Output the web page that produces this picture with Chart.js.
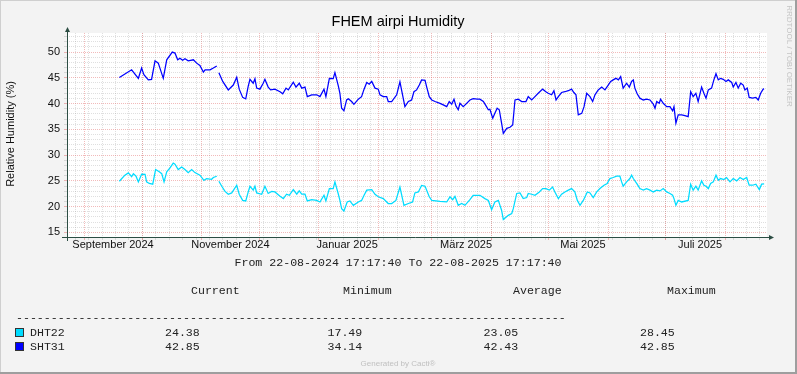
<!DOCTYPE html>
<html>
<head>
<meta charset="utf-8">
<title>FHEM airpi Humidity</title>
<script src="https://cdn.jsdelivr.net/npm/chart.js"></script>
<style>
  html, body { margin: 0; padding: 0; background: #f3f3f3; }
  #wrap { width: 797px; height: 374px; }
</style>
</head>
<body>
<div id="wrap"><canvas id="humChart" width="797" height="374"></canvas></div>
<script>
// Zeitraum: 22-08-2024 17:17:40 bis 22-08-2025 17:17:40, x = Tage ab Start
const startTime = new Date(2024, 7, 22, 17, 17, 40);
const totalDays = 365;

const xLabels = ["September 2024", "November 2024", "Januar 2025", "März 2025", "Mai 2025", "Juli 2025"];
const xLabelDays = [24.0, 85.2, 146.1, 208.1, 269.0, 330.1];

const yMin = 14.1;
const yMax = 53.7;

const seriesNames = ["DHT22", "SHT31"];
const statHeaders = ["Current", "Minimum", "Average", "Maximum"];
const dht22Stats = ["24.38", "17.49", "23.05", "28.45"];
const sht31Stats = ["42.85", "34.14", "42.43", "42.85"];

// DHT22 (cyan)
const dht22Days = [27.3, 30.2, 32.0, 33.7, 34.6, 36.0, 37.2, 38.9, 40.7, 41.5, 42.9, 44.7, 46.2, 48.1, 49.4, 50.6, 52.0, 53.7, 55.4, 56.3, 58.0, 59.8, 61.5, 63.2, 65.0, 66.7, 69.3, 71.4, 72.8, 75.4, 76.3, 78.1, 78.7,
  79.2, 80.7, 82.4, 84.1, 85.9, 88.5, 89.8, 91.6, 93.2, 94.5, 95.4, 97.1, 98.0, 98.9, 101.5, 103.2, 104.9, 106.7, 108.4, 111.1, 112.8, 114.5, 115.9, 118.0, 119.8, 121.1, 122.4, 124.1, 125.3, 127.6, 130.2, 131.9, 134.0, 135.0,
  136.8, 138.8, 139.7, 141.5, 142.3, 143.2, 144.4, 146.1, 147.5, 149.3, 151.9, 153.6, 154.9, 156.3, 158.9, 160.6, 162.3, 164.9, 167.5, 169.3, 171.5, 173.6, 175.7, 178.0, 180.2, 181.4, 183.2, 184.9, 186.7, 188.9, 190.2,
  194.5, 198.0, 199.7, 201.1, 202.3, 204.0, 205.8, 207.5, 210.1, 211.8, 215.3, 217.9, 219.7, 221.4, 223.1, 224.9, 226.6, 227.5, 230.1, 231.9, 232.7, 234.5, 236.2, 237.9, 239.7, 240.5, 242.3, 244.0, 246.3, 248.0, 249.7,
  251.5, 253.2, 254.4, 256.2, 257.9, 259.6, 261.4, 263.1, 264.8, 266.1, 267.5, 269.2, 271.3, 272.7, 274.4, 276.2, 277.9, 280.0, 281.7, 283.1, 284.8, 286.6, 288.3, 289.2, 290.0, 291.8, 293.5, 294.4, 295.3, 297.3, 298.7,
  300.5, 302.2, 304.0, 305.7, 307.5, 309.2, 310.9, 312.7, 314.4, 315.8, 316.5, 317.5, 318.7, 320.5, 323.9, 325.2, 326.5, 327.9, 329.1, 330.9, 332.1, 333.2, 334.4, 335.6, 337.0, 338.4, 339.6, 340.8, 342.5, 343.9, 345.7,
  347.4, 349.2, 350.9, 352.6, 354.4, 355.7, 357.5, 359.2, 361.0, 362.2, 363.5];
const dht22Values = [24.93, 26.1, 26.55, 25.8, 26.4, 25.9, 24.8, 26.3, 26.25, 24.8, 24.5, 24.35, 27.2, 26.75, 26.4, 24.8, 26.75, 27.5, 28.45, 28.25, 27.2, 27.7, 27.2, 26.6, 27.2, 26.6, 26.1, 25.1, 25.45, 25.3, 25.65, 25.9, null,
  24.93, 23.95, 22.95, 22.4, 22.65, 24.15, 22.4, 21.2, 21.1, 22.85, 23.95, 23.2, 23.95, 22.65, 22.4, 23.95, 22.55, 22.95, 22.85, 22.0, 21.55, 22.4, 22.2, 23.3, 22.4, 23.05, 22.4, 22.4, 21.1, 21.35, 21.2, 20.9, 22.2, 21.1,
  23.5, 23.5, 24.8, 22.4, 21.2, 19.6, 19.15, 20.9, 21.1, 20.25, 20.9, 21.2, 22.2, 23.2, 23.3, 22.4, 21.9, 21.55, 20.6, 20.6, 21.2, 23.8, 20.25, 20.6, 20.9, 22.65, 22.85, 24.1, 23.95, 21.9, 21.2,
  21.0, 20.9, 21.9, 21.35, 22.0, 20.25, 20.6, 20.25, 21.35, 22.2, 22.2, 21.55, 21.2, 19.4, 20.9, 21.2, 19.3, 17.5, 18.3, 18.65, 19.6, 22.55, 22.65, 21.55, 21.75, 22.55, 22.4, 22.2, 22.85, 23.5, 23.5,
  23.2, 23.8, 22.85, 21.55, 22.4, 22.85, 23.2, 23.5, 22.85, 21.2, 20.25, 21.2, 22.85, 22.65, 21.75, 22.85, 23.5, 24.15, 24.5, 25.45, 25.65, 25.9, 25.9, 24.8, 23.95, 24.8, 25.45, 26.1, 25.45, 24.35, 23.5,
  23.2, 23.5, 23.2, 22.85, 23.2, 23.05, 23.5, 22.85, 22.55, 22.2, 21.55, 20.25, 21.2, 20.9, 21.2, 24.35, 23.2, 23.95, 23.2, 25.0, 24.15, 23.95, 23.5, 24.5, 24.8, 26.1, 25.1, 25.45, 25.25, 25.65, 24.8,
  25.45, 25.0, 25.65, 25.25, 25.65, 24.15, 24.15, 24.35, 23.3, 24.35, 24.4];

// SHT31 (blau)
const sht31Days = [27.3, 33.7, 37.2, 38.9, 40.1, 42.4, 44.1, 45.9, 47.6, 50.2, 52.0, 54.9, 56.3, 57.7, 58.9, 60.3, 61.5, 63.2, 65.9, 67.6, 69.3, 71.1, 72.0, 74.6, 76.3, 78.1, 78.7,
  79.2, 81.2, 84.1, 86.7, 88.5, 89.8, 91.6, 93.2, 94.5, 95.4, 97.1, 98.0, 98.9, 100.6, 102.3, 103.2, 104.9, 106.2, 108.4, 111.1, 112.5, 114.2, 115.4, 118.0, 119.4, 121.1, 122.4, 124.1, 125.3, 127.6, 130.2, 131.9, 134.0, 135.0,
  136.8, 138.8, 139.7, 141.5, 142.3, 143.2, 144.4, 145.8, 146.7, 148.4, 149.6, 151.9, 153.6, 154.9, 156.3, 157.6, 158.9, 160.6, 162.3, 163.2, 164.9, 166.7, 167.5, 169.3, 171.9, 173.6, 176.2, 178.0, 179.7, 180.9, 182.3,
  183.7, 184.9, 186.7, 187.5, 188.9, 190.2, 191.9, 194.5, 196.2, 198.0, 199.3, 200.6, 201.8, 202.8, 204.0, 204.9, 206.6, 208.0, 210.1, 211.8, 213.9, 215.3, 217.1, 218.5, 219.7, 220.5, 222.0, 223.1, 224.3, 225.4, 226.6,
  227.5, 229.3, 231.0, 232.4, 233.6, 235.3, 237.1, 239.3, 240.5, 242.3, 244.0, 245.7, 248.0, 249.7, 250.9, 252.7, 253.9, 255.0, 256.2, 257.9, 259.6, 261.4, 263.1, 264.3, 265.4, 266.6, 268.4, 269.6, 271.0, 272.7, 274.1,
  275.3, 277.0, 278.8, 280.5, 282.2, 283.5, 284.8, 286.2, 287.5, 288.7, 290.0, 291.8, 293.2, 294.4, 295.3, 296.1, 297.3, 298.7, 300.5, 302.2, 304.0, 305.7, 306.6, 307.5, 308.8, 309.5, 310.9, 312.7, 314.4, 315.8, 316.5,
  317.5, 318.7, 320.5, 322.2, 323.9, 325.2, 326.5, 327.9, 329.1, 330.9, 332.1, 333.2, 334.4, 336.1, 337.3, 338.4, 339.6, 340.8, 342.2, 343.6, 344.8, 346.6, 347.4, 348.8, 350.0, 351.3, 352.6, 353.5, 354.7, 355.7, 357.5,
  359.2, 360.4, 361.7, 363.0, 363.5];
const sht31Values = [45.05, 46.55, 44.9, 46.9, 45.6, 44.6, 44.7, 48.3, 47.85, 44.9, 48.5, 50.0, 49.8, 48.5, 48.8, 48.4, 48.7, 48.3, 48.5, 47.85, 47.4, 46.1, 46.55, 46.55, 46.9, 47.3, null,
  46.0, 44.3, 42.65, 43.6, 45.1, 42.8, 41.2, 40.9, 43.4, 44.7, 43.95, 44.8, 43.0, 42.8, 43.95, 44.7, 43.2, 42.65, 42.8, 42.3, 41.9, 43.0, 42.65, 44.15, 43.2, 43.95, 43.0, 43.2, 41.35, 41.7, 41.7, 41.35, 42.8, 41.35,
  44.9, 44.85, 46.0, 43.4, 42.0, 39.1, 38.6, 40.7, 40.95, 40.4, 39.85, 40.85, 41.35, 42.8, 44.1, 43.75, 44.3, 43.0, 42.8, 41.7, 41.35, 41.35, 40.4, 40.4, 41.7, 44.2, 39.4, 40.4, 40.7, 42.3, 42.65,
  43.6, 44.6, 44.5, 43.3, 41.35, 40.7, 40.4, 40.05, 39.75, 39.4, 40.4, 39.9, 40.85, 39.55, 38.8, 40.05, 39.4, 39.9, 40.7, 40.95, 40.85, 40.85, 40.4, 39.55, 38.8, 38.9, 37.15, 38.1, 39.1, 38.8, 36.2,
  34.2, 35.2, 35.4, 35.85, 40.7, 40.85, 40.4, 40.4, 41.35, 40.7, 41.35, 42.0, 42.8, 42.3, 42.0, 41.7, 42.5, 40.7, 41.35, 42.15, 42.3, 42.5, 42.8, 42.15, 41.7, 37.8, 38.1, 39.4, 42.0, 41.35, 40.4,
  41.7, 42.65, 43.2, 42.65, 43.6, 44.3, 44.6, 44.9, 44.6, 45.25, 43.0, 43.95, 43.2, 44.3, 44.6, 43.0, 41.9, 41.05, 40.7, 40.85, 40.7, 39.9, 39.1, 40.4, 40.05, 40.85, 40.05, 39.4, 39.4, 38.6, 39.4,
  36.2, 37.8, 37.8, 37.65, 37.45, 42.3, 41.35, 42.0, 40.4, 43.2, 42.0, 41.05, 42.65, 43.0, 44.6, 45.8, 44.6, 44.9, 44.7, 44.3, 44.6, 44.1, 43.2, 44.1, 43.0, 43.95, 43.6, 42.65, 43.0, 41.2, 41.05,
  41.2, 40.7, 42.0, 42.8, 42.85];

const dhtColor = "#00dcff";
const shtColor = "#0000ff";
const axisColor = "#2c4d43";
const minorGrid = "rgba(150, 150, 150, 0.3)";
const majorGrid = "rgba(225, 90, 90, 0.42)";

// Gitterlinien: Monatsanfang (rot), Wochen (grau), Beschriftung in Monatsmitte
const dayOf = (d) => (d - startTime) / 86400000;
const monthLines = [];
for (let m = 8; m <= 19; m++) monthLines.push(dayOf(new Date(2024, m, 1)));
const weekLines = [];
for (let d = dayOf(new Date(2024, 7, 27)); d < totalDays; d += 7) weekLines.push(d);

const xTicks = []
  .concat(weekLines.map((v) => ({ value: v, kind: "minor", label: "" })))
  .concat(monthLines.map((v) => ({ value: v, kind: "major", label: "" })))
  .concat(xLabelDays.map((v, i) => ({ value: v, kind: "label", label: xLabels[i] })))
  .sort((a, b) => a.value - b.value);

const yTicks = [];
for (let v = 15; v <= 53; v++) yTicks.push(v);

function xGridColor(c) {
  const t = xTicks[c.index];
  if (!t || t.kind === "label") return "rgba(0,0,0,0)";
  return t.kind === "major" ? majorGrid : minorGrid;
}
function yGridColor(c) {
  const v = yTicks[c.index];
  return v % 5 === 0 ? majorGrid : minorGrid;
}

const rrdFrame = {
  id: "rrdFrame",
  beforeDraw(chart) {
    const { ctx, chartArea: a, width, height } = chart;
    ctx.save();
    ctx.fillStyle = "#f3f3f3";
    ctx.fillRect(0, 0, width, height);
    ctx.fillStyle = "#ffffff";
    ctx.fillRect(a.left, a.top, a.right - a.left, a.bottom - a.top);
    ctx.fillStyle = "#cfcfcf";
    ctx.fillRect(0, 0, width, 1);
    ctx.fillRect(0, 0, 1, height);
    ctx.fillStyle = "#9e9e9e";
    ctx.fillRect(0, height - 2, width, 2);
    ctx.fillRect(width - 2, 0, 2, height);
    ctx.restore();
  },
  afterDraw(chart) {
    const { ctx, chartArea: a } = chart;
    const x0 = a.left + 0.5;
    const y0 = a.bottom + 0.5;
    ctx.save();

    // Achsen mit Pfeilen
    ctx.strokeStyle = axisColor;
    ctx.fillStyle = axisColor;
    ctx.lineWidth = 1;
    ctx.beginPath();
    ctx.moveTo(a.left - 5, y0);
    ctx.lineTo(a.right + 2, y0);
    ctx.moveTo(x0, a.bottom + 4);
    ctx.lineTo(x0, a.top - 1);
    ctx.stroke();
    ctx.beginPath();
    ctx.moveTo(x0, a.top - 6);
    ctx.lineTo(x0 - 2.5, a.top - 1);
    ctx.lineTo(x0 + 2.5, a.top - 1);
    ctx.closePath();
    ctx.fill();
    ctx.beginPath();
    ctx.moveTo(a.right + 7, y0);
    ctx.lineTo(a.right + 2, y0 - 2.5);
    ctx.lineTo(a.right + 2, y0 + 2.5);
    ctx.closePath();
    ctx.fill();

    // Titel
    ctx.fillStyle = "#000";
    ctx.textAlign = "center";
    ctx.textBaseline = "middle";
    ctx.font = "14.5px 'Liberation Sans', Arial, sans-serif";
    ctx.fillText("FHEM airpi Humidity", 398, 22);

    // y-Achsentitel
    ctx.save();
    ctx.translate(11, 134);
    ctx.rotate(-Math.PI / 2);
    ctx.font = "11px 'Liberation Sans', Arial, sans-serif";
    ctx.fillStyle = "#111";
    ctx.fillText("Relative Humidity (%)", 0, 0);
    ctx.restore();

    // Wasserzeichen rechts
    ctx.save();
    ctx.translate(789, 56);
    ctx.rotate(Math.PI / 2);
    ctx.font = "8px 'Liberation Sans', Arial, sans-serif";
    ctx.fillStyle = "#c4c4c4";
    ctx.fillText("RRDTOOL / TOBI OETIKER", 0, 0);
    ctx.restore();

    // Legende
    ctx.font = "11.6px 'Liberation Mono', monospace";
    ctx.fillStyle = "#222";
    ctx.textAlign = "center";
    ctx.fillText("From 22-08-2024 17:17:40 To 22-08-2025 17:17:40", 398, 263);
    ctx.textAlign = "left";
    const colX = [191, 343, 513, 667];
    statHeaders.forEach((h, i) => ctx.fillText(h, colX[i], 291));
    ctx.fillText("-".repeat(79), 16, 318);

    const valX = [165, 327.5, 483.5, 640];
    const rows = [
      { name: seriesNames[0], color: dhtColor, stats: dht22Stats, y: 333 },
      { name: seriesNames[1], color: shtColor, stats: sht31Stats, y: 347 }
    ];
    rows.forEach((r) => {
      ctx.fillStyle = r.color;
      ctx.fillRect(15.5, r.y - 4.5, 8, 8);
      ctx.strokeStyle = "#333";
      ctx.strokeRect(15.5, r.y - 4.5, 8, 8);
      ctx.fillStyle = "#222";
      ctx.fillText(r.name, 30, r.y);
      r.stats.forEach((s, i) => ctx.fillText(s, valX[i], r.y));
    });

    ctx.font = "8px 'Liberation Sans', Arial, sans-serif";
    ctx.fillStyle = "#c0c0c0";
    ctx.textAlign = "center";
    ctx.fillText("Generated by Cacti®", 398, 364);
    ctx.restore();
  }
};

const ctx = document.getElementById("humChart").getContext("2d");
new Chart(ctx, {
  type: "line",
  data: {
    datasets: [
      {
        label: seriesNames[0],
        data: dht22Days.map((d, i) => ({ x: d, y: dht22Values[i] })),
        borderColor: dhtColor,
        borderWidth: 1.25,
        pointRadius: 0,
        tension: 0,
        spanGaps: false,
        fill: false
      },
      {
        label: seriesNames[1],
        data: sht31Days.map((d, i) => ({ x: d, y: sht31Values[i] })),
        borderColor: shtColor,
        borderWidth: 1.25,
        pointRadius: 0,
        tension: 0,
        spanGaps: false,
        fill: false
      }
    ]
  },
  options: {
    responsive: false,
    animation: false,
    devicePixelRatio: 1,
    layout: { padding: { left: 0, top: 33, right: 30, bottom: 0 } },
    plugins: {
      legend: { display: false },
      tooltip: { enabled: false },
      title: { display: false }
    },
    scales: {
      x: {
        type: "linear",
        min: 0,
        max: totalDays,
        afterFit: (scale) => { scale.height = 137; },
        afterBuildTicks: (scale) => { scale.ticks = xTicks.map((t) => ({ value: t.value })); },
        ticks: {
          autoSkip: false,
          maxRotation: 0,
          minRotation: 0,
          padding: -1.5,
          color: "#111",
          font: { family: "'Liberation Sans', Arial, sans-serif", size: 11 },
          callback: (v, i) => xTicks[i].label
        },
        grid: { color: xGridColor, tickColor: xGridColor, tickLength: 3, lineWidth: 1 },
        border: { display: false, dash: [1, 1] }
      },
      y: {
        min: yMin,
        max: yMax,
        afterFit: (scale) => { scale.width = 67; },
        afterBuildTicks: (scale) => { scale.ticks = yTicks.map((v) => ({ value: v })); },
        ticks: {
          autoSkip: false,
          padding: 4,
          color: "#111",
          font: { family: "'Liberation Sans', Arial, sans-serif", size: 11 },
          callback: (v) => (v % 5 === 0 ? String(v) : "")
        },
        grid: { color: yGridColor, tickColor: yGridColor, tickLength: 3, lineWidth: 1 },
        border: { display: false, dash: [1, 1] }
      }
    }
  },
  plugins: [rrdFrame]
});
</script>
</body>
</html>
